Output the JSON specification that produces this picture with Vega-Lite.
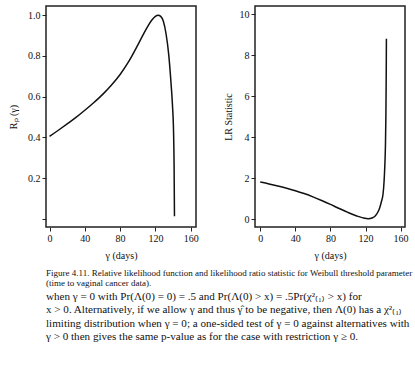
{
  "$schema": "https://vega.github.io/schema/vega-lite/v6.json",
  "background": "white",
  "padding": {"left": 7, "top": 5, "right": 5, "bottom": 5},
  "config": {
    "font": "Liberation Serif",
    "view": {"stroke": "#222", "strokeWidth": 1.5},
    "axis": {
      "domain": false, "grid": false, "ticks": true, "tickColor": "#222", "tickSize": 4,
      "labelFontSize": 10, "labelColor": "#111", "labelPadding": 2,
      "titleFontSize": 10, "titleFontWeight": "normal", "titleColor": "#111"
    },
    "line": {"color": "#111", "strokeWidth": 1.5, "interpolate": "monotone"}
  },
  "title": {
    "text": [
      "when γ = 0 with Pr(Λ(0) = 0) = .5 and Pr(Λ(0) > x) = .5Pr(χ²₍₁₎ > x) for",
      "x > 0. Alternatively, if we allow γ and thus γ̂ to be negative, then Λ(0) has a χ²₍₁₎",
      "limiting distribution when γ = 0; a one-sided test of γ = 0 against alternatives with",
      "γ > 0 then gives the same p-value as for the case with restriction γ ≥ 0."
    ],
    "orient": "bottom", "anchor": "start", "frame": "group",
    "fontSize": 11.1, "fontWeight": "normal", "color": "#111", "lineHeight": 13.5, "offset": 3
  },
  "vconcat": [
    {
      "title": {
        "text": [
          "Figure 4.11. Relative likelihood function and likelihood ratio statistic for Weibull threshold parameter",
          "(time to vaginal cancer data)."
        ],
        "orient": "bottom", "anchor": "start", "frame": "group",
        "fontSize": 9, "fontWeight": "normal", "color": "#111", "lineHeight": 10, "offset": 8
      },
      "spacing": 23,
      "hconcat": [
        {
          "width": 150, "height": 221,
          "data": {"values": [
            {"gamma": 0, "r": 0.405}, {"gamma": 10, "r": 0.435}, {"gamma": 20, "r": 0.466},
            {"gamma": 30, "r": 0.498}, {"gamma": 40, "r": 0.533}, {"gamma": 50, "r": 0.570},
            {"gamma": 60, "r": 0.610}, {"gamma": 70, "r": 0.656}, {"gamma": 80, "r": 0.709},
            {"gamma": 90, "r": 0.774}, {"gamma": 100, "r": 0.853}, {"gamma": 106, "r": 0.903},
            {"gamma": 111, "r": 0.943}, {"gamma": 116, "r": 0.976}, {"gamma": 120, "r": 0.994},
            {"gamma": 123, "r": 1.0}, {"gamma": 126, "r": 0.994}, {"gamma": 129, "r": 0.97},
            {"gamma": 132, "r": 0.91}, {"gamma": 135, "r": 0.81}, {"gamma": 137.8, "r": 0.66},
            {"gamma": 139.3, "r": 0.56}, {"gamma": 140.6, "r": 0.42}, {"gamma": 141.2, "r": 0.25},
            {"gamma": 141.6, "r": 0.013}
          ]},
          "mark": {"type": "line"},
          "encoding": {
            "x": {"field": "gamma", "type": "quantitative", "title": "γ (days)",
                  "scale": {"domain": [-4, 166], "nice": false, "zero": false},
                  "axis": {"values": [0, 40, 80, 120, 160], "titlePadding": 7}},
            "y": {"field": "r", "type": "quantitative", "title": "Rₚ (γ)",
                  "scale": {"domain": [-0.04, 1.045], "nice": false, "zero": false},
                  "axis": {"values": [0, 0.2, 0.4, 0.6, 0.8, 1.0],
                           "labelExpr": "datum.value == 0 ? '' : format(datum.value, '.1f')",
                           "titlePadding": 9}}
          }
        },
        {
          "width": 150, "height": 221,
          "data": {"values": [
            {"gamma": 0, "lr": 1.82}, {"gamma": 10, "lr": 1.73}, {"gamma": 20, "lr": 1.63},
            {"gamma": 30, "lr": 1.52}, {"gamma": 40, "lr": 1.40}, {"gamma": 50, "lr": 1.26},
            {"gamma": 60, "lr": 1.10}, {"gamma": 70, "lr": 0.92}, {"gamma": 80, "lr": 0.73},
            {"gamma": 90, "lr": 0.53}, {"gamma": 100, "lr": 0.34}, {"gamma": 110, "lr": 0.17},
            {"gamma": 117, "lr": 0.075}, {"gamma": 123, "lr": 0.03},
            {"gamma": 128, "lr": 0.08}, {"gamma": 131, "lr": 0.17}, {"gamma": 134, "lr": 0.35},
            {"gamma": 136.2, "lr": 0.57}, {"gamma": 138, "lr": 0.85}, {"gamma": 140, "lr": 1.25},
            {"gamma": 141.2, "lr": 1.9}, {"gamma": 141.9, "lr": 2.52}, {"gamma": 142.7, "lr": 3.6},
            {"gamma": 143.2, "lr": 5.0}, {"gamma": 143.5, "lr": 6.5}, {"gamma": 143.7, "lr": 7.8},
            {"gamma": 143.8, "lr": 8.8}
          ]},
          "mark": {"type": "line"},
          "encoding": {
            "x": {"field": "gamma", "type": "quantitative", "title": "γ (days)",
                  "scale": {"domain": [-6, 165], "nice": false, "zero": false},
                  "axis": {"values": [0, 40, 80, 120, 160], "titlePadding": 7}},
            "y": {"field": "lr", "type": "quantitative", "title": "LR Statistic",
                  "scale": {"domain": [-0.37, 10.4], "nice": false, "zero": false},
                  "axis": {"values": [0, 2, 4, 6, 8, 10], "titlePadding": 6}}
          }
        }
      ]
    }
  ]
}
